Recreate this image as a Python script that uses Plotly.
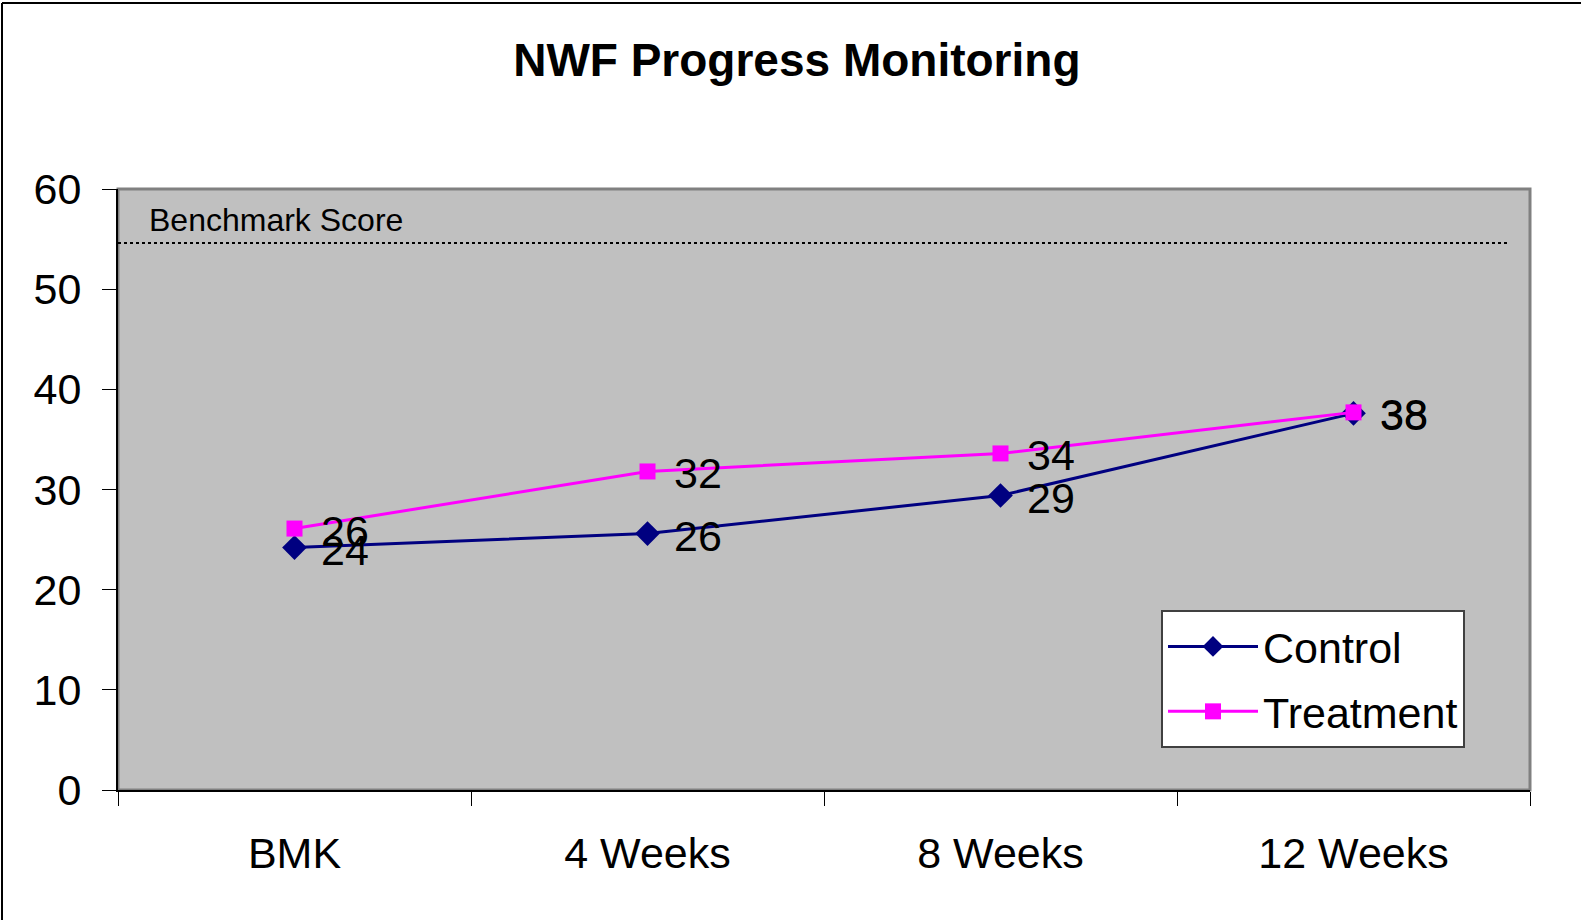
import plotly.graph_objects as go

categories = ["BMK", "4 Weeks", "8 Weeks", "12 Weeks"]
control = [24.2, 25.6, 29.4, 37.6]
treatment = [26.1, 31.8, 33.6, 37.7]
control_labels = ["24", "26", "29", "38"]
treatment_labels = ["26", "32", "34", "38"]
benchmark = 54.6

W, H = 1581, 920
L, R, T, B = 118, 51, 189, 130
pw, ph = W - L - R, H - T - B
FONT = "Arial, Liberation Sans, sans-serif"

fig = go.Figure()
fig.add_trace(go.Scatter(
    x=categories, y=control, name="Control", mode="lines+markers",
    legendgroup="c",
    line=dict(color="#000080", width=3),
    marker=dict(symbol="diamond", size=19, color="#000080"),
))
fig.add_trace(go.Scatter(
    x=categories, y=treatment, name="Treatment", mode="lines+markers",
    legendgroup="t",
    line=dict(color="#FF00FF", width=3),
    marker=dict(symbol="square", size=16, color="#FF00FF"),
))

annotations = []
for cat, val, lab in zip(categories, control, control_labels):
    annotations.append(dict(
        x=cat, y=val, xref="x", yref="y", text=lab, showarrow=False,
        xanchor="left", yanchor="middle", xshift=24, yshift=-2,
        font=dict(size=43, family=FONT, color="black")))
for cat, val, lab in zip(categories, treatment, treatment_labels):
    annotations.append(dict(
        x=cat, y=val, xref="x", yref="y", text=lab, showarrow=False,
        xanchor="left", yanchor="middle", xshift=24, yshift=-2,
        font=dict(size=43, family=FONT, color="black")))


def px_x(p):
    return (p - L) / pw


def px_y(p):
    return (H - B - p) / ph


annotations.append(dict(text="Benchmark Score", xref="paper", yref="paper",
                        x=px_x(147), y=px_y(220), xanchor="left", yanchor="middle",
                        showarrow=False, font=dict(size=32, family=FONT, color="black")))

shapes = [
    dict(type="rect", xref="paper", yref="paper", x0=0, x1=1, y0=0, y1=1,
         line=dict(color="#808080", width=3), layer="below"),
    dict(type="line", xref="paper", yref="y", x0=0, x1=px_x(1510),
         y0=benchmark, y1=benchmark, line=dict(color="black", width=2, dash="dot")),
    dict(type="line", xref="paper", yref="paper", x0=px_x(2), x1=px_x(2),
         y0=px_y(925), y1=px_y(3), line=dict(color="black", width=2)),
    dict(type="line", xref="paper", yref="paper", x0=px_x(2), x1=px_x(1585),
         y0=px_y(3), y1=px_y(3), line=dict(color="black", width=2)),
]

fig.update_layout(
    width=W, height=H,
    margin=dict(l=L, r=R, t=T, b=B),
    paper_bgcolor="white", plot_bgcolor="#C0C0C0",
    font=dict(family=FONT, color="black", size=43),
    title=dict(text="<b>NWF Progress Monitoring</b>", xref="container", x=0.504,
               xanchor="center", yref="container", y=1 - 60 / H, yanchor="middle",
               font=dict(size=46, family=FONT, color="black")),
    showlegend=True,
    legend=dict(x=px_x(1465), xanchor="right", y=px_y(748), yanchor="bottom",
                bgcolor="white", bordercolor="#404040", borderwidth=2,
                font=dict(size=43, family=FONT, color="black"),
                itemwidth=90, tracegroupgap=6),
    shapes=shapes,
    annotations=annotations,
)
fig.update_xaxes(
    type="category", range=[-0.5, 3.5], tickson="boundaries", ticks="outside",
    ticklen=14, tickcolor="black", tickwidth=1, showline=True, linecolor="black",
    linewidth=2, showgrid=False, zeroline=False, ticklabelstandoff=24,
    tickfont=dict(size=43, family=FONT, color="black"),
)
fig.update_yaxes(
    range=[0, 60], dtick=10, ticks="outside", ticklen=14, tickcolor="black",
    tickwidth=1, showline=True, linecolor="black", linewidth=2,
    showgrid=False, zeroline=False, ticklabelstandoff=12,
    tickfont=dict(size=43, family=FONT, color="black"),
)

fig.write_html("out.html", post_script="document.body.style.margin='0px';",
               config={"displayModeBar": False})
